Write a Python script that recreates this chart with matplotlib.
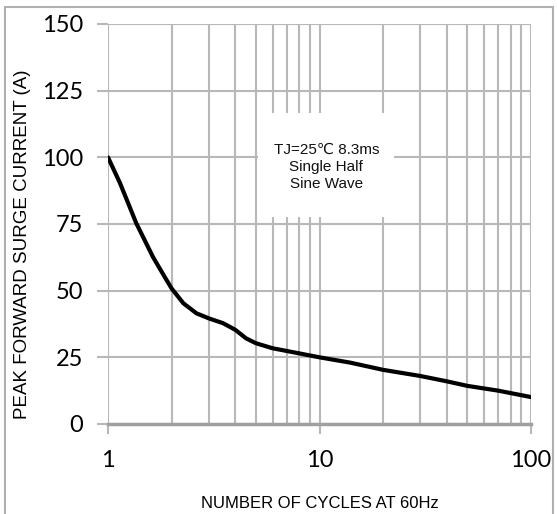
import matplotlib
matplotlib.use("Agg")
import matplotlib.pyplot as plt
from matplotlib.patches import Rectangle
from matplotlib.ticker import FixedLocator, NullFormatter, FixedFormatter

cycles = [1, 1.07, 1.14, 1.25, 1.36, 1.5, 1.63, 1.83, 2.0, 2.27, 2.62, 3.0, 3.5,
          4.0, 4.5, 5.0, 6.0, 8.0, 10, 14, 20, 30, 40, 50, 70, 100]
current = [100, 95, 90.3, 82.5, 75.3, 68.5, 62.7, 55.9, 50.8, 45.3, 41.5, 39.6, 37.8,
           35.3, 32.1, 30.3, 28.4, 26.5, 25.0, 23.0, 20.3, 18.0, 16.0, 14.3, 12.5, 10.1]
x_ticks = [1, 10, 100]
x_tick_labels = ["1", "10", "100"]
y_ticks = [0, 25, 50, 75, 100, 125, 150]
y_tick_labels = ["0", "25", "50", "75", "100", "125", "150"]
annotation = "TJ=25\u2103 8.3ms\nSingle Half\nSine Wave"

narrow = ["Liberation Sans Narrow", "Liberation Sans", "DejaVu Sans"]
tickfont = ["Lato", "DejaVu Sans"]

fig = plt.figure(figsize=(5.57, 5.14), dpi=100)
ax = fig.add_axes([108/557, 1-424/514, 423/557, 400/514])

ax.set_xscale("log")
ax.set_xlim(1, 100)
ax.set_ylim(0, 150)

grid_c = "#b8b8b8"
minor_x = [v*d for d in (1, 10) for v in range(2, 10)]
ax.xaxis.set_major_locator(FixedLocator(x_ticks))
ax.xaxis.set_minor_locator(FixedLocator(minor_x))
ax.xaxis.set_minor_formatter(NullFormatter())
ax.xaxis.set_major_formatter(FixedFormatter(x_tick_labels))
ax.set_yticks(y_ticks)
ax.set_yticklabels(y_tick_labels)

ax.grid(True, which="major", color=grid_c, lw=1.5, zorder=0)
ax.grid(True, which="minor", axis="x", color=grid_c, lw=1.5, zorder=0)
ax.set_axisbelow(True)

for s in ["top", "right", "left"]:
    ax.spines[s].set_visible(False)
ax.spines["bottom"].set_color("#a0a0a0")
ax.spines["bottom"].set_linewidth(2.5)

ax.tick_params(axis="y", length=8, width=1.5, color=grid_c, pad=10,
               labelsize=17, labelcolor="black")
ax.tick_params(axis="x", which="major", length=7, width=1.5, color=grid_c, pad=12,
               labelsize=17, labelcolor="black")
ax.tick_params(axis="x", which="minor", length=0)
for lab in ax.get_xticklabels() + ax.get_yticklabels():
    lab.set_family(tickfont)

ax.plot(cycles, current, color="black", lw=3, zorder=5,
        solid_capstyle="round", solid_joinstyle="round")

ax.add_patch(Rectangle((0.3546, 0.5175), 0.3215, 0.26, transform=ax.transAxes,
                       facecolor="white", edgecolor="none", zorder=3))
ax.text(0.516, 0.643, annotation, transform=ax.transAxes, ha="center", va="center",
        fontsize=11, family=narrow, linespacing=1.3, zorder=6, color="#111111")

ax.set_ylabel("PEAK FORWARD SURGE CURRENT (A)", family=narrow, fontsize=13.5)
ax.yaxis.set_label_coords(-0.183, 0.45)
ax.set_xlabel("NUMBER OF CYCLES AT 60Hz", family=narrow, fontsize=12)
ax.xaxis.set_label_coords(0.5, -0.18)

fig.patches.append(Rectangle((5/557, -0.05), 548/557, 1.05 - 7/514,
                             transform=fig.transFigure, facecolor="none",
                             edgecolor="#b0b0b0", lw=1.5))

fig.savefig("out.png", dpi=100)
